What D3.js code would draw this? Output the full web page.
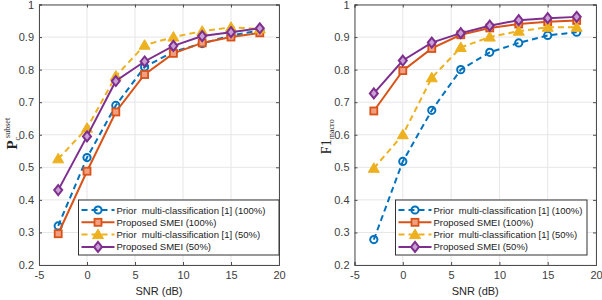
<!DOCTYPE html>
<html>
<head>
<meta charset="utf-8">
<script src="https://cdn.jsdelivr.net/npm/d3@7"></script>
<style>
  body { margin: 0; background: #fff; }
  svg { display: block; font-family: "Liberation Sans", Arial, sans-serif; }
</style>
</head>
<body>
<div id="container"></div>
<script>
// SNR points (dB)
const snr = [-3, 0, 3, 6, 9, 12, 15, 18];
const xTicks = [-5, 0, 5, 10, 15, 20];
const yTicks = [0.2, 0.3, 0.4, 0.5, 0.6, 0.7, 0.8, 0.9, 1];

const seriesNames = [
  "Prior  multi-classification [1] (100%)",
  "Proposed SMEI (100%)",
  "Prior  multi-classification [1] (50%)",
  "Proposed SMEI (50%)"
];

// left panel: P_c^subset
const pPrior100 = [0.32, 0.53, 0.69, 0.808, 0.855, 0.88, 0.905, 0.92];
const pSmei100  = [0.296, 0.488, 0.67, 0.785, 0.85, 0.882, 0.9, 0.913];
const pPrior50  = [0.526, 0.62, 0.78, 0.875, 0.9, 0.918, 0.93, 0.925];
const pSmei50   = [0.43, 0.595, 0.765, 0.825, 0.873, 0.903, 0.915, 0.927];

// right panel: F1_macro
const fPrior100 = [0.278, 0.518, 0.675, 0.80, 0.853, 0.882, 0.905, 0.915];
const fSmei100  = [0.673, 0.797, 0.865, 0.907, 0.928, 0.94, 0.947, 0.951];
const fPrior50  = [0.497, 0.60, 0.775, 0.868, 0.90, 0.918, 0.93, 0.93];
const fSmei50   = [0.727, 0.828, 0.883, 0.912, 0.935, 0.952, 0.958, 0.962];

const styles = [
  { color: "#0072BD", dash: "6,4", marker: "circle" },
  { color: "#D95319", dash: null, marker: "square" },
  { color: "#EDB120", dash: "6,4", marker: "triangle" },
  { color: "#7E2F8E", dash: null, marker: "diamond" }
];

const W = 602, H = 300;
const svg = d3.select("#container").append("svg")
  .attr("width", W).attr("height", H);

function drawMarker(g, type, x, y, color) {
  if (type === "circle") {
    g.append("circle").attr("cx", x).attr("cy", y).attr("r", 3.6)
      .attr("fill", "none").attr("stroke", color).attr("stroke-width", 2);
  } else if (type === "square") {
    g.append("rect").attr("x", x - 3.5).attr("y", y - 3.5).attr("width", 7).attr("height", 7)
      .attr("fill", "#f0a080").attr("stroke", color).attr("stroke-width", 1.8);
  } else if (type === "triangle") {
    g.append("path").attr("d", `M${x},${y - 5.5}L${x + 5.5},${y + 4}L${x - 5.5},${y + 4}Z`)
      .attr("fill", color).attr("stroke", color).attr("stroke-width", 1);
  } else {
    g.append("path").attr("d", `M${x},${y - 5}L${x + 4},${y}L${x},${y + 5}L${x - 4},${y}Z`)
      .attr("fill", "#c9a0d4").attr("stroke", color).attr("stroke-width", 2);
  }
}

function panel(left, right, data, legendX, legendW, ylabel) {
  const top = 4.5, bottom = 265;
  const x = d3.scaleLinear().domain([-5, 20]).range([left, right]);
  const y = d3.scaleLinear().domain([0.2, 1]).range([bottom, top]);
  const g = svg.append("g");

  // grid
  g.append("g").selectAll("line").data(xTicks).join("line")
    .attr("x1", d => x(d)).attr("x2", d => x(d)).attr("y1", top).attr("y2", bottom)
    .attr("stroke", "#e6e6e6").attr("stroke-width", 1);
  g.append("g").selectAll("line").data(yTicks).join("line")
    .attr("x1", left).attr("x2", right).attr("y1", d => y(d)).attr("y2", d => y(d))
    .attr("stroke", "#e6e6e6").attr("stroke-width", 1);

  // axes
  g.append("g").attr("transform", `translate(0,${bottom})`)
    .call(d3.axisBottom(x).tickValues(xTicks).tickSize(-3).tickPadding(6).tickFormat(d => String(d)));
  g.append("g").attr("transform", `translate(${left},0)`)
    .call(d3.axisLeft(y).tickValues(yTicks).tickSize(-3).tickPadding(5).tickFormat(d => d === 1 ? "1" : d3.format(".1f")(d)));
  g.append("g").attr("transform", `translate(0,${top})`)
    .call(d3.axisTop(x).tickValues(xTicks).tickSize(-3).tickFormat(""));
  g.append("g").attr("transform", `translate(${right},0)`)
    .call(d3.axisRight(y).tickValues(yTicks).tickSize(-3).tickFormat(""));
  g.selectAll(".domain").attr("stroke", "#4d4d4d");
  g.selectAll(".tick line").attr("stroke", "#4d4d4d");
  g.selectAll(".tick text").attr("fill", "#404040").attr("font-size", 11)
    .attr("font-family", "Liberation Sans, Arial, sans-serif");

  // series
  const line = d3.line().x((d, i) => x(snr[i])).y(d => y(d));
  data.forEach((vals, k) => {
    const st = styles[k];
    g.append("path").datum(vals).attr("d", line)
      .attr("fill", "none").attr("stroke", st.color).attr("stroke-width", 2)
      .attr("stroke-dasharray", st.dash);
    const mg = g.append("g");
    vals.forEach((v, i) => drawMarker(mg, st.marker, x(snr[i]), y(v), st.color));
  });

  // legend
  const ly = 200, lh = 55;
  const lg = g.append("g");
  lg.append("rect").attr("x", legendX).attr("y", ly).attr("width", legendW).attr("height", lh)
    .attr("fill", "#fff").attr("stroke", "#333").attr("stroke-width", 1);
  seriesNames.forEach((name, k) => {
    const st = styles[k];
    const yy = ly + 10 + k * 12.3;
    lg.append("line").attr("x1", legendX + 3).attr("x2", legendX + 36).attr("y1", yy).attr("y2", yy)
      .attr("stroke", st.color).attr("stroke-width", 2).attr("stroke-dasharray", st.dash);
    drawMarker(lg, st.marker, legendX + 19.5, yy, st.color);
    lg.append("text").attr("x", legendX + 38).attr("y", yy + 3.5)
      .attr("font-size", 9.5).attr("fill", "#1a1a1a").style("white-space", "pre").text(name);
  });

  // x label
  g.append("text").attr("x", (left + right) / 2).attr("y", 295)
    .attr("text-anchor", "middle").attr("font-size", 11).attr("fill", "#262626")
    .text("SNR (dB)");

  ylabel(g, left, (top + bottom) / 2);
}

panel(39, 279, [pPrior100, pSmei100, pPrior50, pSmei50], 78.5, 200.5, (g, left, cy) => {
  const t = g.append("text").attr("transform", `translate(${left - 22},${cy - 1}) rotate(-90)`)
    .attr("text-anchor", "middle").attr("font-family", "Liberation Serif, Times New Roman, serif")
    .attr("fill", "#262626");
  t.append("tspan").attr("font-size", 15).attr("font-weight", "bold").text("P");
  t.append("tspan").attr("font-size", 8).attr("dy", 3).text("c");
  t.append("tspan").attr("font-size", 8).attr("dy", -10).attr("dx", -1).text("subset");
});

panel(354.5, 596, [fPrior100, fSmei100, fPrior50, fSmei50], 395.5, 191.5, (g, left, cy) => {
  const t = g.append("text").attr("transform", `translate(${left - 24},${cy + 2}) rotate(-90)`)
    .attr("text-anchor", "middle").attr("font-family", "Liberation Serif, Times New Roman, serif")
    .attr("fill", "#262626");
  t.append("tspan").attr("font-size", 14).text("F1");
  t.append("tspan").attr("font-size", 8).attr("dy", 3).text("macro");
});
</script>
</body>
</html>
